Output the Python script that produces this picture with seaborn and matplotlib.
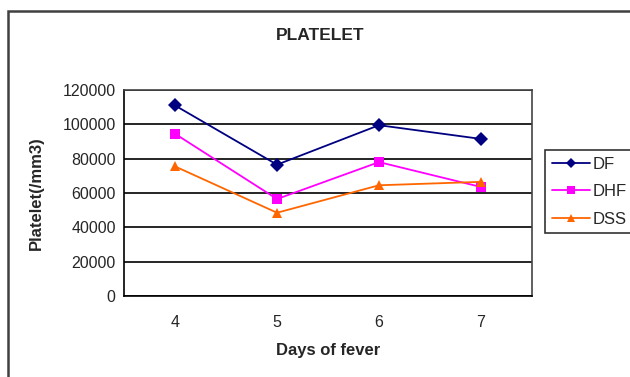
import matplotlib
matplotlib.use("Agg")
import matplotlib.pyplot as plt
import seaborn as sns
import pandas as pd
from matplotlib.patches import Rectangle

# platelet counts by day of fever
days = [4, 5, 6, 7]
df_vals = [111000, 76500, 99500, 91500]
dhf_vals = [94500, 56500, 78000, 63500]
dss_vals = [75500, 48500, 64500, 66500]

data = pd.DataFrame({
    'day': days * 3,
    'platelet': df_vals + dhf_vals + dss_vals,
    'group': ['DF'] * 4 + ['DHF'] * 4 + ['DSS'] * 4,
})

sns.set_style('white')
plt.rcParams['font.family'] = ['Liberation Sans', 'DejaVu Sans']

fig = plt.figure(figsize=(6.3, 3.77), dpi=100)
ax = fig.add_axes([124/630, 1 - 296/377, 408/630, 206/377])

palette = {'DF': '#000080', 'DHF': '#FF00FF', 'DSS': '#FF6600'}
markers = {'DF': 'D', 'DHF': 's', 'DSS': '^'}
_ = sns.lineplot(data=data, x='day', y='platelet', hue='group', style='group',
                 palette=palette, markers=markers, dashes=False,
                 markersize=7, linewidth=1.3, markeredgewidth=0, ax=ax)

ax.set_xlim(3.5, 7.5)
ax.set_ylim(0, 120000)
ax.set_yticks(range(0, 120001, 20000))
ax.set_yticklabels([str(v) for v in range(0, 120001, 20000)], fontsize=11.5)
ax.set_xticks(days)
ax.set_xticklabels([str(d) for d in days], fontsize=11.5)
ax.set_xticks([3.5, 4.5, 5.5, 6.5, 7.5], minor=True)
ax.tick_params(axis='x', which='major', length=0, pad=14)
ax.tick_params(axis='x', which='minor', length=5, width=1.2, direction='out', color='black')
ax.tick_params(axis='y', which='major', length=8, width=1.2, direction='inout', color='black', pad=2)
ax.yaxis.grid(True, color='black', linewidth=1.2)
ax.set_axisbelow(True)
for s in ax.spines.values():
    s.set_color('black')
    s.set_linewidth(1.2)
ax.spines['right'].set_color('#444444')
ax.spines['top'].set_color('#444444')

ax.set_xlabel('Days of fever', fontsize=12, fontweight='bold')
ax.set_ylabel('Platelet(/mm3)', fontsize=12, fontweight='bold')
ax.xaxis.set_label_coords(0.5, (296 - 343) / 206)
ax.yaxis.set_label_coords((44 - 124) / 408, 0.5)
fig.text(320/630, 1 - 36/377, 'PLATELET', ha='center', va='center',
         fontsize=12.5, fontweight='bold')

leg = ax.legend(loc='upper left', bbox_to_anchor=(545/630, 1 - 150/377),
                bbox_transform=fig.transFigure, frameon=True,
                fontsize=12, handlelength=2.3, borderpad=0.4, labelspacing=0.75,
                handletextpad=0.15, fancybox=False, edgecolor='black',
                borderaxespad=0, markerscale=0.8)
leg.get_frame().set_linewidth(1.2)

# outer chart border
fig.patches.append(Rectangle((8/630, -0.1), 2, 1 - 11/377 + 0.1,
                             transform=fig.transFigure, fill=False,
                             edgecolor='#404040', linewidth=1.8))

fig.savefig('out.png', dpi=100)
